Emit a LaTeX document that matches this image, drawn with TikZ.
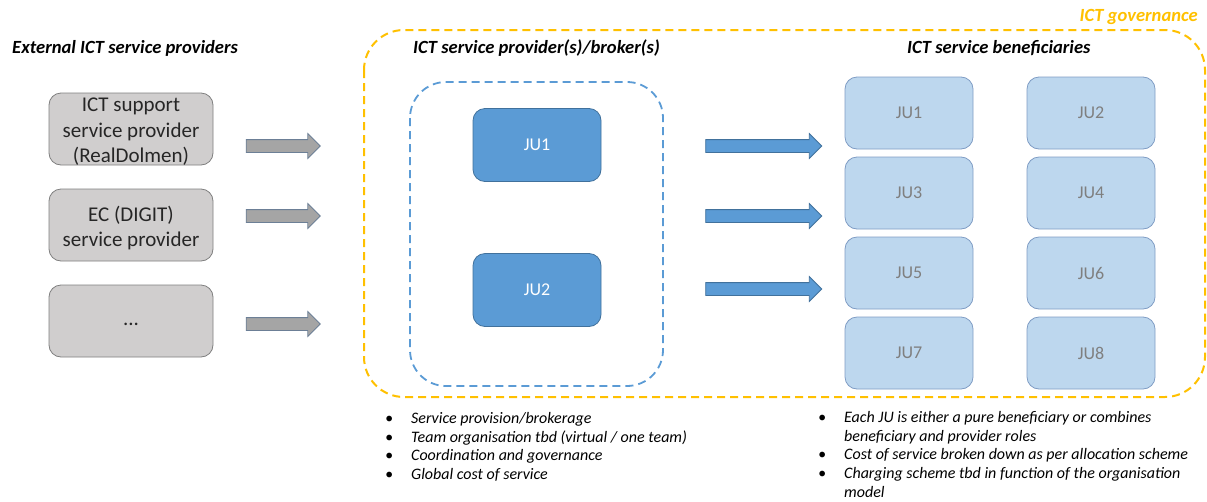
\documentclass[tikz,border=0pt]{standalone}
\usepackage{fontspec}
\setmainfont{Carlito}
\usetikzlibrary{shapes.arrows}
\definecolor{provgray}{HTML}{D0CECE}
\definecolor{provline}{HTML}{7F7F7F}
\definecolor{arrgray}{HTML}{A5A5A5}
\definecolor{arrline}{HTML}{6C7F96}
\definecolor{jublue}{HTML}{5B9BD5}
\definecolor{juline}{HTML}{41719C}
\definecolor{jupale}{HTML}{BDD7EE}
\definecolor{jupaleline}{HTML}{7F9CC4}
\definecolor{govyellow}{HTML}{FFC000}
\newcommand{\bitem}[1]{\makebox[26pt][l]{\textbullet}#1}
\newcommand{\bcont}[1]{\makebox[26pt][l]{}#1}
\tikzset{
  provbox/.style={draw=provline, fill=provgray, line width=0.8pt, rounded corners=12pt,
    minimum width=164pt, minimum height=72pt, inner sep=0pt},
  provtext/.style={align=center, inner sep=0pt, yshift=-3pt,
    font=\fontsize{21}{25.5}\selectfont, text=black!85},
  jubox/.style={draw=juline, fill=jublue, line width=0.8pt, rounded corners=12pt,
    minimum width=128pt, minimum height=73pt, inner sep=0pt,
    font=\fontsize{18}{21}\selectfont, text=white},
  benbox/.style={draw=jupaleline, fill=jupale, line width=0.8pt, rounded corners=12pt,
    minimum width=128pt, minimum height=72pt, inner sep=0pt,
    font=\fontsize{18}{21}\selectfont, text=provline},
  blockarrow/.style={single arrow, single arrow head extend=6pt, single arrow tip angle=90,
    minimum width=24pt, inner xsep=0pt, inner ysep=6pt, outer sep=0pt, line width=0.8pt},
  grayarrow/.style={blockarrow, draw=arrline, fill=arrgray, minimum height=74pt},
  bluearrow/.style={blockarrow, draw=juline, fill=jublue, minimum height=116pt},
  heading/.style={font=\fontsize{18.6}{22}\selectfont\bfseries\itshape, inner sep=0pt},
  bullets/.style={font=\fontsize{16}{18.8}\selectfont\itshape, inner sep=0pt, align=left, anchor=north west},
  frame/.style={dashed, dash pattern=on 8pt off 5pt, line width=2pt},
}
\begin{document}
\begin{tikzpicture}[x=1pt, y=-1pt]
  \useasboundingbox (0,0) rectangle (1207,501);

  % governance frame
  \draw[frame, govyellow, rounded corners=40pt] (364,30) rectangle (1205,397);
  \node[heading, text=govyellow, anchor=east] (gov) at (1198,17) {ICT governance};

  % headings
  \node[heading, anchor=west] (hext) at (12,48) {External ICT service providers};
  \node[heading, anchor=west] (hprov) at (413,48) {ICT service provider(s)/broker(s)};
  \node[heading, anchor=west] (hben) at (907,48) {ICT service beneficiaries};

  % external providers
  \node[provbox] (ext1) at (131,129) {};
  \node[provtext] (ext1t) at (ext1.center) {ICT support\\service provider\\(RealDolmen)};
  \node[provbox] (ext2) at (131,225) {};
  \node[provtext] (ext2t) at (ext2.center) {EC (DIGIT)\\service provider};
  \node[provbox] (ext3) at (131,321) {};
  \node[provtext] (ext3t) at (ext3.center) {...};

  \node[grayarrow] (ga1) at (280,146) {};
  \node[grayarrow] (ga2) at (280,216) {};
  \node[grayarrow] (ga3) at (280,324) {};

  % providers / brokers
  \draw[frame, jublue, line width=1.8pt, rounded corners=36pt] (410,82) rectangle (663,386);
  \node[jubox] (p1) at (537,145) {JU1};
  \node[jubox] (p2) at (537,290) {JU2};

  \node[bluearrow] (ba1) at (760.5,146) {};
  \node[bluearrow] (ba2) at (760.5,216) {};
  \node[bluearrow] (ba3) at (760.5,289) {};

  % beneficiaries
  \node[benbox] (b1) at (909,113) {JU1};
  \node[benbox] (b2) at (1091,113) {JU2};
  \node[benbox] (b3) at (909,193) {JU3};
  \node[benbox] (b4) at (1091,193) {JU4};
  \node[benbox] (b5) at (909,273) {JU5};
  \node[benbox] (b6) at (1091,273) {JU6};
  \node[benbox] (b7) at (909,353) {JU7};
  \node[benbox] (b8) at (1091,353) {JU8};

  % notes
  \node[bullets] (nprov) at (385,412) {%
    \bitem{Service provision/brokerage}\\
    \bitem{Team organisation tbd (virtual / one team)}\\
    \bitem{Coordination and governance}\\
    \bitem{Global cost of service}};
  \node[bullets] (nben) at (818,411) {%
    \bitem{Each JU is either a pure beneficiary or combines}\\
    \bcont{beneficiary and provider roles}\\
    \bitem{Cost of service broken down as per allocation scheme}\\
    \bitem{Charging scheme tbd in function of the organisation}\\
    \bcont{model}};
\end{tikzpicture}
\end{document}
